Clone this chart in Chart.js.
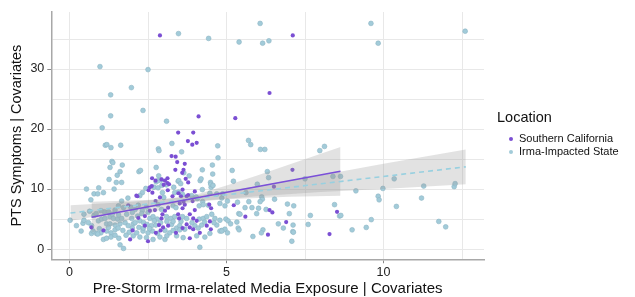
<!DOCTYPE html>
<html lang="en">
<head>
<meta charset="UTF-8">
<title>PTS Symptoms vs Media Exposure</title>
<script src="https://cdn.jsdelivr.net/npm/chart.js@4.4.1/dist/chart.umd.min.js"></script>
<style>
  body { margin: 0; background: #fff; }
  #wrap { width: 635px; height: 297px; }
</style>
</head>
<body>
<div id="wrap"><canvas id="chart" width="635" height="297"></canvas></div>
<script>
// Southern California points
const calX = [2.88, 7.11, 6.37, 4.11, 5.28, 3.46, 3.94, 3.77, 3.91, 4.05, 3.25, 3.38, 3.43, 3.67, 3.37, 3.59, 2.63, 2.93, 3.12, 3.04,
  3.17, 3.70, 3.78, 2.74, 3.12, 7.10, 6.51, 2.13, 2.52, 2.62, 3.00, 3.13, 3.60, 3.78, 3.99, 2.56, 2.64, 2.88, 2.74, 3.28,
  3.47, 3.55, 3.63, 3.73, 3.92, 4.45, 4.51, 3.99, 3.51, 3.67, 3.60, 3.14, 3.04, 2.72, 2.56, 2.40, 2.93, 2.96, 3.46, 3.49,
  3.83, 3.94, 4.05, 4.47, 2.85, 2.98, 3.14, 3.60, 3.73, 3.83, 4.37, 4.50, 2.40, 2.75, 2.90, 3.39, 3.94, 2.50, 3.83, 4.15,
  2.16, 2.19, 2.01, 1.93, 1.08, 0.70, 5.23, 6.37, 6.46, 5.60, 6.90, 6.32, 8.52, 8.28, 3.63, 1.87];
const calY = [35.6, 35.6, 26.0, 22.1, 21.8, 19.4, 19.4, 18.0, 17.4, 17.7, 15.5, 15.4, 14.5, 14.2, 13.2, 12.7, 11.8, 11.6, 11.8, 11.4,
  10.8, 11.7, 11.1, 11.4, 11.0, 13.2, 10.4, 8.9, 9.8, 10.5, 10.7, 9.8, 9.9, 9.0, 9.6, 10.3, 9.4, 8.6, 8.0, 8.8,
  9.3, 8.8, 7.9, 8.8, 8.0, 7.4, 6.8, 6.5, 7.6, 7.4, 6.8, 6.9, 6.4, 6.5, 6.4, 5.5, 5.1, 5.8, 5.8, 5.1,
  5.8, 5.1, 4.7, 4.6, 4.0, 3.6, 3.9, 3.5, 4.1, 3.6, 3.9, 3.3, 3.9, 2.7, 3.1, 2.7, 3.3, 1.3, 1.8, 2.7,
  8.8, 5.2, 3.1, 1.6, 3.1, 3.6, 7.3, 6.5, 6.1, 5.4, 4.5, 2.4, 6.2, 2.5, 13.2, 7.3];

// Irma-impacted state points
const irmaX = [0.97, 1.31, 1.97, 2.50, 3.47, 4.43, 5.40, 6.07, 1.31, 2.34, 3.09, 1.04, 6.15, 6.35, 9.60, 9.83, 12.60,
  3.26, 1.14, 1.19, 1.32, 1.63, 2.83, 2.85, 3.57, 4.72, 5.70, 5.77, 4.73, 1.35, 1.38, 1.68, 1.29, 4.23, 4.55, 1.61, 1.52,
  2.21, 2.26, 3.64, 5.18, 1.66, 1.26, 2.84, 3.81, 2.76, 3.46, 4.16, 4.49, 5.22, 1.49, 2.76, 2.82, 2.92, 3.48, 3.54, 4.19,
  4.56, 4.51, 4.50, 6.08, 6.22, 6.30, 6.34, 5.98, 7.50, 7.97, 8.12, 8.39, 8.63, 9.12, 9.83, 9.86, 9.98, 10.34, 10.41, 11.28,
  11.21, 12.25, 12.28,
  0.54, 0.93, 0.78, 0.90, 1.08, 1.42, 2.69, 2.82, 2.94, 3.09, 3.32, 3.47, 3.60, 3.89, 4.23, 4.07, 4.47, 4.57, 4.85, 5.62,
  1.66, 1.86, 0.68, 2.43, 2.32, 2.24, 2.96, 3.00, 3.35, 4.03, 4.24, 4.42, 4.69, 4.88, 5.03, 4.79, 4.95, 4.13, 4.26, 3.30,
  3.39, 2.82, 2.93, 2.45, 2.32, 1.95, 2.19, 1.56, 1.72, 2.09, 1.11, 1.24, 1.45, 6.12, 6.14, 6.07, 6.53, 5.35, 5.71, 6.94,
  7.14, 5.81, 6.26, 5.59, 6.02, 8.44,
  0.02, 0.22, 0.43, 0.46, 0.37, 0.70, 0.92, 1.02, 1.13, 1.29, 1.40, 1.53, 1.66, 1.18, 1.29, 1.45, 1.61, 1.77, 1.87, 2.03,
  0.70, 0.86, 1.00, 1.18, 1.32, 1.45, 1.08, 1.18, 1.32, 1.45, 1.61, 1.72, 2.03, 2.14, 2.21, 2.09, 1.98, 2.17, 0.46, 0.78,
  0.90, 0.75, 2.56, 2.66, 2.79, 3.09, 3.23, 3.35, 3.60, 3.73, 4.13, 4.26, 4.37, 4.53, 4.63, 4.79, 4.98, 2.24, 2.36, 2.47,
  2.61, 2.75, 3.25, 3.41, 3.51, 3.99, 4.10, 4.21, 4.69, 4.85, 4.95, 2.34, 2.50, 2.64, 3.04, 3.19, 3.30, 3.51, 3.67, 2.24,
  2.45, 2.66, 2.88, 3.04, 3.41, 3.62, 4.05, 4.31, 4.47, 4.15, 4.79, 5.03, 4.85, 5.05, 5.13, 5.33, 5.37, 5.40, 5.84, 5.39,
  5.96, 5.43, 6.65, 6.81, 6.16, 6.11, 7.00, 7.67, 7.60, 7.12, 7.11, 7.08, 7.13, 8.60, 8.64, 9.00, 9.45, 9.61, 11.76, 11.98,
  0.64, 0.85, 1.00, 1.36, 1.56, 1.82, 2.00, 2.30, 2.50, 0.95, 1.24, 1.55, 1.70, 1.90, 2.00, 2.35, 2.55, 1.57, 1.80, 2.80,
  3.10, 3.30, 3.55, 3.90, 4.30, 4.60, 2.70, 2.90, 3.10, 0.60];
const irmaY = [30.4, 25.7, 26.9, 29.9, 35.9, 35.1, 34.5, 37.6, 22.2, 23.1, 21.3, 20.2, 34.3, 34.7, 37.6, 34.3, 36.3,
  17.6, 17.3, 17.4, 16.9, 17.3, 16.7, 16.4, 16.2, 17.2, 18.1, 17.4, 15.2, 14.6, 14.4, 14.0, 13.6, 13.2, 14.0, 12.9, 12.3,
  12.9, 13.1, 12.7, 13.1, 11.1, 11.6, 12.2, 12.2, 11.2, 11.3, 11.4, 11.1, 11.3, 11.1, 13.6, 11.4, 11.5, 11.4, 10.9, 11.7,
  12.5, 10.3, 10.8, 16.6, 16.6, 12.9, 11.9, 10.8, 11.7, 16.4, 17.1, 12.1, 12.1, 9.7, 8.8, 8.2, 10.1, 11.7, 7.1, 10.5,
  8.5, 10.4, 10.9,
  10.0, 10.2, 9.2, 9.2, 9.4, 10.0, 10.3, 10.2, 10.6, 10.7, 10.3, 9.5, 9.1, 8.9, 9.9, 8.4, 9.3, 10.6, 8.5, 9.4,
  8.0, 8.5, 8.2, 10.1, 9.4, 8.9, 9.4, 8.6, 9.4, 8.7, 7.9, 7.3, 9.2, 9.2, 8.0, 7.6, 7.2, 7.2, 7.4, 7.2,
  6.9, 7.4, 6.6, 7.0, 6.4, 7.0, 7.3, 7.2, 6.9, 6.6, 6.2, 6.2, 6.5, 8.7, 8.3, 7.9, 8.3, 7.8, 7.9, 7.5,
  7.2, 6.9, 6.6, 6.9, 6.8, 7.4,
  4.8, 3.9, 4.3, 4.8, 3.0, 3.9, 4.7, 5.0, 5.1, 5.4, 5.1, 5.0, 5.1, 4.2, 4.2, 4.0, 4.2, 4.4, 3.9, 4.2,
  2.6, 2.6, 2.7, 3.0, 2.7, 3.2, 1.6, 1.8, 2.0, 2.3, 0.7, 0.1, 2.2, 2.7, 3.6, 4.4, 5.1, 5.5, 5.8, 5.6,
  2.5, 3.0, 5.1, 5.4, 5.0, 5.4, 5.1, 5.4, 5.4, 5.1, 5.0, 5.1, 5.4, 5.8, 5.1, 4.8, 5.0, 4.7, 4.4, 4.1,
  3.9, 4.0, 4.1, 3.5, 3.9, 3.9, 3.5, 4.0, 4.0, 3.1, 3.3, 3.0, 2.7, 3.0, 3.1, 2.7, 3.1, 3.2, 3.3, 2.0,
  1.9, 1.6, 2.0, 1.6, 2.2, 1.9, 2.2, 2.0, 2.6, 0.3, 3.0, 2.7, 3.0, 4.7, 4.2, 4.5, 3.5, 3.2, 2.1, 5.9,
  5.9, 5.8, 4.2, 3.5, 3.2, 2.7, 5.9, 5.6, 4.1, 4.0, 2.9, 1.3, 2.8, 5.5, 5.6, 3.2, 3.6, 4.9, 4.6, 3.7,
  6.3, 5.9, 6.4, 5.8, 5.7, 5.8, 6.1, 5.9, 6.1, 3.4, 3.6, 3.5, 3.1, 2.8, 3.5, 3.5, 3.4, 1.8, 2.3, 2.6,
  2.2, 4.6, 4.6, 4.4, 4.5, 4.4, 4.7, 4.4, 4.6, 4.4];

// fitted lines and confidence bands
const calFitX = [0.7, 8.63];
const calFitY = [5.3, 12.95];
const calBandX = [0.7, 2, 3, 4, 5, 6, 7, 8.63];
const calBandHi = [7.9, 8.1, 8.3, 9.0, 10.6, 12.3, 14.1, 17.0];
const calBandLo = [2.7, 5.0, 6.7, 7.9, 8.3, 8.5, 8.7, 8.9];

const irmaFitX = [0.03, 12.62];
const irmaFitY = [6.0, 13.7];
const irmaBandX = [0.03, 2, 3.8, 6, 8, 10, 12.62];
const irmaBandHi = [7.3, 7.9, 8.7, 10.5, 12.3, 14.2, 16.6];
const irmaBandLo = [4.7, 6.5, 7.9, 8.8, 9.5, 10.0, 10.8];

const xTicks = [0, 5, 10];
const yTicks = [0, 10, 20, 30];

const legendTitle = 'Location';
const FONT = 'Liberation Sans, Arial, sans-serif';

const pts = (xs, ys) => xs.map((x, i) => ({ x: x, y: ys[i] }));

const purple = '#7b4fd3';
const cyan = '#a2cbd9';
const bandFill = 'rgba(150,150,150,0.28)';

const bandSet = (label, xs, ys, fill) => ({
  label: label, type: 'line', data: pts(xs, ys), showLine: true,
  borderWidth: 0, pointRadius: 0, fill: fill, backgroundColor: bandFill, order: 2
});

// ggplot-style legend on the right, drawn from the two point datasets
const sideLegend = {
  id: 'sideLegend',
  afterDraw(chart) {
    const ctx = chart.ctx;
    const left = chart.chartArea.right + 13;
    ctx.save();
    ctx.textBaseline = 'middle';
    ctx.textAlign = 'left';
    ctx.fillStyle = '#111';
    ctx.font = '14.5px ' + FONT;
    ctx.fillText(legendTitle, left, 118);
    ctx.font = '11px ' + FONT;
    chart.data.datasets.slice(0, 2).forEach((ds, i) => {
      const y = 139 + i * 13;
      ctx.beginPath();
      ctx.arc(left + 14, y, 2, 0, Math.PI * 2);
      ctx.fillStyle = ds.backgroundColor;
      ctx.fill();
      ctx.fillStyle = '#111';
      ctx.fillText(ds.label, left + 22, y);
    });
    ctx.restore();
  }
};

new Chart(document.getElementById('chart'), {
  type: 'scatter',
  data: {
    datasets: [
      { label: 'Southern California', data: pts(calX, calY), backgroundColor: purple, borderColor: purple,
        borderWidth: 0, pointRadius: 2.1, order: 3 },
      { label: 'Irma-Impacted State', data: pts(irmaX, irmaY), backgroundColor: cyan, borderColor: '#8db6c4',
        borderWidth: 0.6, pointRadius: 2.4, order: 4 },
      bandSet('calHi', calBandX, calBandHi, '+1'),
      bandSet('calLo', calBandX, calBandLo, false),
      bandSet('irmaHi', irmaBandX, irmaBandHi, '+1'),
      bandSet('irmaLo', irmaBandX, irmaBandLo, false),
      { label: 'calFit', type: 'line', data: pts(calFitX, calFitY), borderColor: '#7a4fd8', borderWidth: 1.6,
        pointRadius: 0, fill: false, order: 0 },
      { label: 'irmaFit', type: 'line', data: pts(irmaFitX, irmaFitY), borderColor: '#98d0e0', borderWidth: 1.6,
        borderDash: [5, 4], pointRadius: 0, fill: false, order: 1 }
    ]
  },
  options: {
    responsive: false,
    animation: false,
    layout: { padding: { top: 12, right: 151, bottom: 0, left: 8 } },
    plugins: {
      tooltip: { enabled: false },
      legend: { display: false }
    },
    scales: {
      x: {
        type: 'linear', min: -0.58, max: 13.2,
        border: { color: '#a8a8a8', width: 1.5 },
        grid: { color: '#e8e8e8', lineWidth: 1, tickLength: 4,
          tickColor: c => xTicks.includes(c.tick.value) ? '#888' : 'rgba(0,0,0,0)' },
        ticks: { stepSize: 2.5, includeBounds: false, autoSkip: false, maxRotation: 0, padding: 2,
          color: '#222', font: { size: 12.5, family: FONT, lineHeight: 1.1 },
          callback: v => xTicks.includes(v) ? String(v) : '' },
        title: { display: true, text: 'Pre-Storm Irma-related Media Exposure | Covariates', color: '#111',
          font: { size: 15, family: FONT, lineHeight: 1.0 }, padding: { top: 0, bottom: 1 } }
      },
      y: {
        type: 'linear', min: -1.7, max: 39.5,
        border: { color: '#a8a8a8', width: 1.5 },
        grid: { color: '#e8e8e8', lineWidth: 1, tickLength: 4,
          tickColor: c => yTicks.includes(c.tick.value) ? '#888' : 'rgba(0,0,0,0)' },
        ticks: { stepSize: 5, includeBounds: false, autoSkip: false, padding: 3,
          color: '#222', font: { size: 12.5, family: FONT },
          callback: v => yTicks.includes(v) ? String(v) : '' },
        title: { display: true, text: 'PTS Symptoms | Covariates', color: '#111',
          font: { size: 14.5, family: FONT }, padding: { top: 0, bottom: 2 } }
      }
    }
  },
  plugins: [sideLegend]
});
</script>
</body>
</html>
